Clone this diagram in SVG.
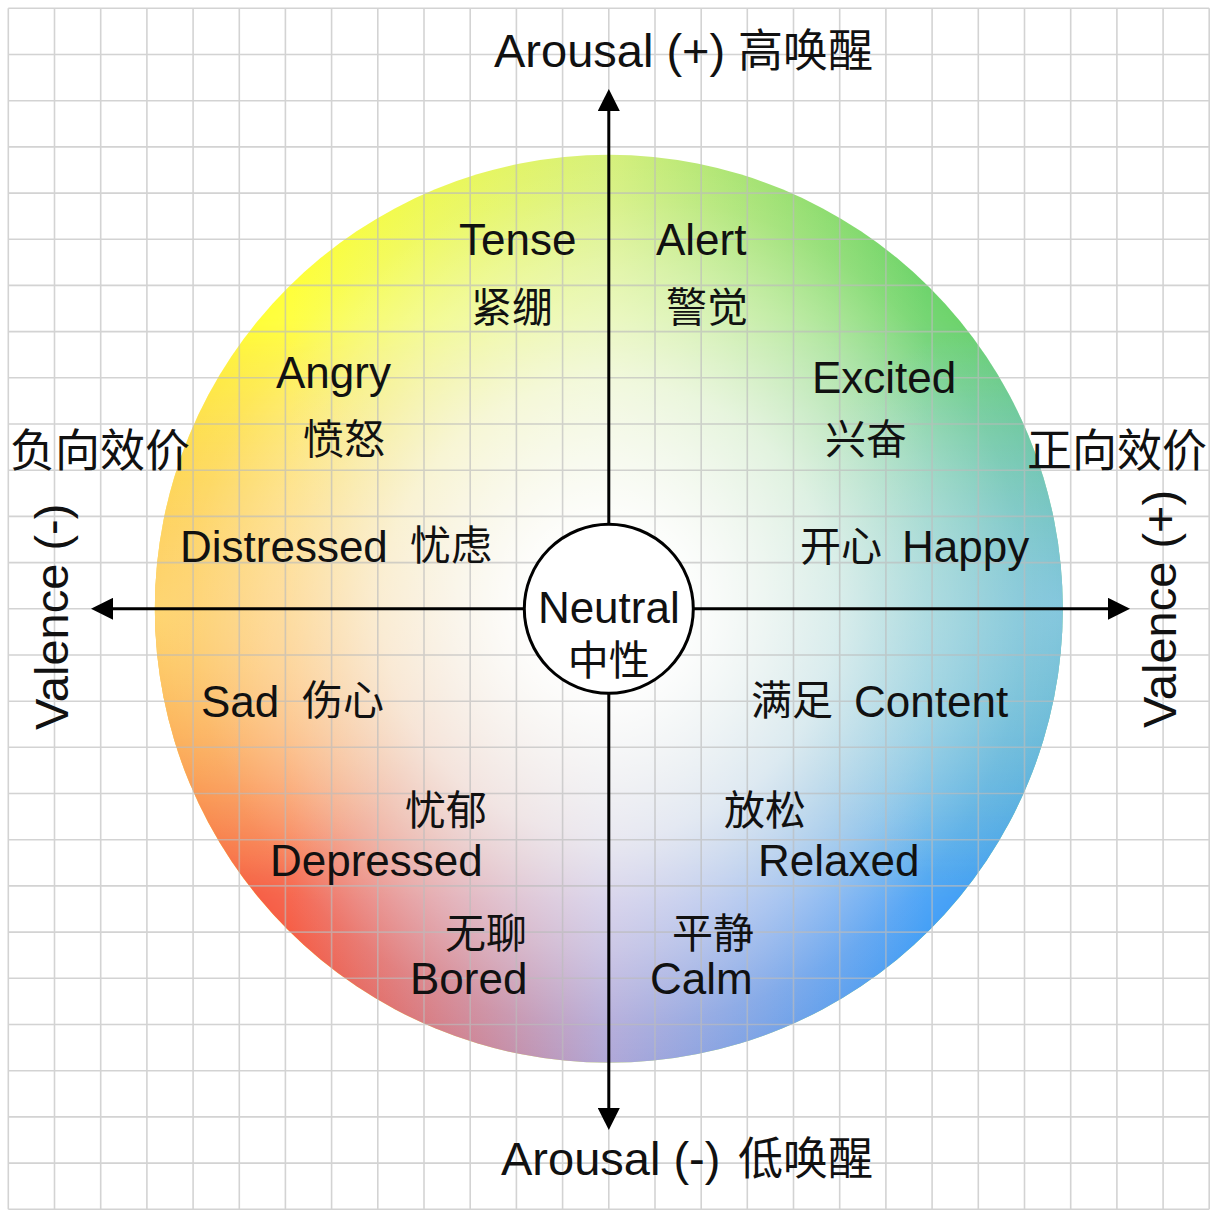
<svg xmlns="http://www.w3.org/2000/svg" width="1219" height="1217" viewBox="0 0 1219 1217">
<defs>
<style>
.t{font-family:"Liberation Sans","Noto Sans CJK SC",sans-serif;fill:#111}
.lat{font-size:44px}
.cjk{font-size:41px}
.ax{font-size:47px}
.axc{font-size:45px}
.grid{fill:none;stroke:#bcbcbc;stroke-opacity:0.65;stroke-width:1.6}
.axis{stroke:#000;stroke-width:3;fill:none}
</style>
<linearGradient id="gTop" x1="0" y1="0" x2="1" y2="0">
<stop offset="0.15" stop-color="#ffff3a"/>
<stop offset="0.5" stop-color="#d6f07c"/>
<stop offset="0.85" stop-color="#6ed46c"/>
</linearGradient>
<linearGradient id="gBot" x1="0" y1="0" x2="1" y2="0">
<stop offset="0.15" stop-color="#f65f47"/>
<stop offset="0.5" stop-color="#b0a8d8"/>
<stop offset="0.85" stop-color="#45a0f6"/>
</linearGradient>
<linearGradient id="gV" x1="0" y1="0" x2="0" y2="1">
<stop offset="0.18" stop-color="#000"/>
<stop offset="0.82" stop-color="#fff"/>
</linearGradient>
<radialGradient id="gW" cx="0.5" cy="0.5" r="0.5">
<stop offset="0" stop-color="#fff" stop-opacity="1"/>
<stop offset="0.2" stop-color="#fff" stop-opacity="0.96"/>
<stop offset="0.5" stop-color="#fff" stop-opacity="0.72"/>
<stop offset="0.75" stop-color="#fff" stop-opacity="0.36"/>
<stop offset="0.92" stop-color="#fff" stop-opacity="0.08"/>
<stop offset="1" stop-color="#fff" stop-opacity="0"/>
</radialGradient>
<radialGradient id="spotL" cx="0.5" cy="0.5" r="0.5">
<stop offset="0" stop-color="#ffdc7a" stop-opacity="0.85"/>
<stop offset="1" stop-color="#ffdc7a" stop-opacity="0"/>
</radialGradient>
<radialGradient id="spotR" cx="0.5" cy="0.5" r="0.5">
<stop offset="0" stop-color="#8cc9e6" stop-opacity="0.85"/>
<stop offset="1" stop-color="#8cc9e6" stop-opacity="0"/>
</radialGradient>
<clipPath id="cW"><circle cx="608.8" cy="608.8" r="454"/></clipPath>
<mask id="mV" maskUnits="userSpaceOnUse" x="150" y="150" width="920" height="920">
<rect x="154.8" y="154.8" width="908" height="908" fill="url(#gV)"/>
</mask>
<marker id="arr" viewBox="0 0 22 22" markerWidth="22" markerHeight="22" refX="1" refY="11" orient="auto" markerUnits="userSpaceOnUse">
<path d="M0,0 L22,11 L0,22 z" fill="#000"/>
</marker>
</defs>
<rect width="1219" height="1217" fill="#fff"/>
<g id="wheel">
<circle cx="608.8" cy="608.8" r="454" fill="url(#gTop)"/>
<circle cx="608.8" cy="608.8" r="454" fill="url(#gBot)" mask="url(#mV)"/>
<g clip-path="url(#cW)">
<circle cx="154.8" cy="608.8" r="300" fill="url(#spotL)"/>
<circle cx="1062.8" cy="608.8" r="300" fill="url(#spotR)"/>
</g>
<circle cx="608.8" cy="608.8" r="454" fill="url(#gW)"/>
</g>
<path id="grid" class="grid" d="M8.3,8.3V1209.2M54.5,8.3V1209.2M100.7,8.3V1209.2M146.9,8.3V1209.2M193.1,8.3V1209.2M239.3,8.3V1209.2M285.4,8.3V1209.2M331.6,8.3V1209.2M377.8,8.3V1209.2M424,8.3V1209.2M470.2,8.3V1209.2M516.4,8.3V1209.2M562.6,8.3V1209.2M608.8,8.3V1209.2M655,8.3V1209.2M701.2,8.3V1209.2M747.3,8.3V1209.2M793.5,8.3V1209.2M839.7,8.3V1209.2M885.9,8.3V1209.2M932.1,8.3V1209.2M978.3,8.3V1209.2M1024.5,8.3V1209.2M1070.7,8.3V1209.2M1116.9,8.3V1209.2M1163.1,8.3V1209.2M1209.2,8.3V1209.2M8.3,8.3H1209.2M8.3,54.5H1209.2M8.3,100.7H1209.2M8.3,146.9H1209.2M8.3,193.1H1209.2M8.3,239.3H1209.2M8.3,285.4H1209.2M8.3,331.6H1209.2M8.3,377.8H1209.2M8.3,424H1209.2M8.3,470.2H1209.2M8.3,516.4H1209.2M8.3,562.6H1209.2M8.3,608.8H1209.2M8.3,655H1209.2M8.3,701.2H1209.2M8.3,747.3H1209.2M8.3,793.5H1209.2M8.3,839.7H1209.2M8.3,885.9H1209.2M8.3,932.1H1209.2M8.3,978.3H1209.2M8.3,1024.5H1209.2M8.3,1070.7H1209.2M8.3,1116.9H1209.2M8.3,1163.1H1209.2M8.3,1209.2H1209.2"/>
<g id="connectors">
<line class="axis" x1="608.8" y1="608.8" x2="608.8" y2="110" marker-end="url(#arr)"/>
<line class="axis" x1="608.8" y1="608.8" x2="608.8" y2="1109" marker-end="url(#arr)"/>
<line class="axis" x1="608.8" y1="608.8" x2="112" y2="608.8" marker-end="url(#arr)"/>
<line class="axis" x1="608.8" y1="608.8" x2="1109" y2="608.8" marker-end="url(#arr)"/>
</g>
<g id="neutral">
<circle cx="608.8" cy="608.8" r="84.5" fill="#fff" stroke="#000" stroke-width="3"/>
<text class="t lat" x="608.8" y="623" text-anchor="middle">Neutral</text>
<text class="t cjk" x="608.8" y="675" text-anchor="middle">中性</text>
</g>
<g id="tense"><text class="t lat" x="459" y="255">Tense</text><text class="t cjk" x="471" y="322">紧绷</text></g>
<g id="alert"><text class="t lat" x="656" y="255">Alert</text><text class="t cjk" x="666" y="322">警觉</text></g>
<g id="angry"><text class="t lat" x="276" y="388">Angry</text><text class="t cjk" x="303" y="454">愤怒</text></g>
<g id="excited"><text class="t lat" x="812" y="393">Excited</text><text class="t cjk" x="825" y="454">兴奋</text></g>
<g id="distressed"><text class="t lat" x="180" y="562">Distressed</text><text class="t cjk" x="410" y="560">忧虑</text></g>
<g id="happy"><text class="t cjk" x="800" y="561">开心</text><text class="t lat" x="902" y="562">Happy</text></g>
<g id="sad"><text class="t lat" x="201" y="717">Sad</text><text class="t cjk" x="302" y="715">伤心</text></g>
<g id="content"><text class="t cjk" x="751" y="715">满足</text><text class="t lat" x="854" y="717">Content</text></g>
<g id="depressed"><text class="t cjk" x="405" y="825">忧郁</text><text class="t lat" x="270" y="876">Depressed</text></g>
<g id="relaxed"><text class="t cjk" x="724" y="825">放松</text><text class="t lat" x="758" y="876">Relaxed</text></g>
<g id="bored"><text class="t cjk" x="445" y="948">无聊</text><text class="t lat" x="410" y="994">Bored</text></g>
<g id="calm"><text class="t cjk" x="672" y="948">平静</text><text class="t lat" x="650" y="994">Calm</text></g>
<g id="arousal-high"><text class="t ax" x="494" y="67">Arousal (+) <tspan class="axc" x="738">高唤醒</tspan></text></g>
<g id="arousal-low"><text class="t ax" x="501" y="1175">Arousal (-) <tspan class="axc" x="738">低唤醒</tspan></text></g>
<g id="valence-neg">
<text class="t axc" x="10" y="467">负向效价</text>
<text class="t ax" transform="translate(68,730) rotate(-90)">Valence (-)</text>
</g>
<g id="valence-pos">
<text class="t axc" x="1027" y="467">正向效价</text>
<text class="t ax" transform="translate(1176,728) rotate(-90)">Valence (+)</text>
</g>
</svg>
